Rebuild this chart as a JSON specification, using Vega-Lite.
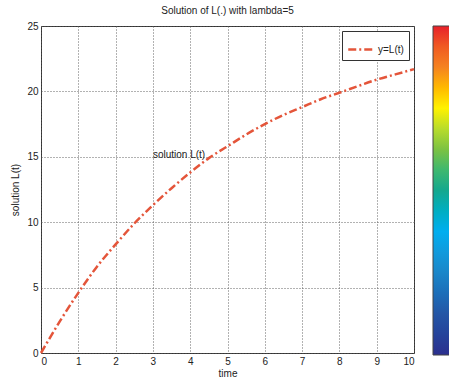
{
  "$schema": "https://vega.github.io/schema/vega-lite/v6.json",
  "width": 373,
  "height": 327,
  "autosize": "none",
  "padding": {"left": 41, "top": 26, "right": 35, "bottom": 26},
  "background": "white",
  "title": {"text": "Solution of L(.) with lambda=5", "fontSize": 10, "fontWeight": "normal", "font": "Liberation Sans", "color": "#222", "offset": 5},
  "datasets": {
    "curve": [
      {"t": 0, "L": 0, "series": "y=L(t)"},
      {"t": 0.5, "L": 2.4, "series": "y=L(t)"},
      {"t": 1, "L": 4.6, "series": "y=L(t)"},
      {"t": 1.5, "L": 6.6, "series": "y=L(t)"},
      {"t": 2, "L": 8.3, "series": "y=L(t)"},
      {"t": 2.5, "L": 9.9, "series": "y=L(t)"},
      {"t": 3, "L": 11.3, "series": "y=L(t)"},
      {"t": 3.5, "L": 12.6, "series": "y=L(t)"},
      {"t": 4, "L": 13.8, "series": "y=L(t)"},
      {"t": 4.5, "L": 14.9, "series": "y=L(t)"},
      {"t": 5, "L": 15.8, "series": "y=L(t)"},
      {"t": 5.5, "L": 16.7, "series": "y=L(t)"},
      {"t": 6, "L": 17.5, "series": "y=L(t)"},
      {"t": 6.5, "L": 18.2, "series": "y=L(t)"},
      {"t": 7, "L": 18.8, "series": "y=L(t)"},
      {"t": 7.5, "L": 19.4, "series": "y=L(t)"},
      {"t": 8, "L": 19.9, "series": "y=L(t)"},
      {"t": 8.5, "L": 20.4, "series": "y=L(t)"},
      {"t": 9, "L": 20.9, "series": "y=L(t)"},
      {"t": 9.5, "L": 21.3, "series": "y=L(t)"},
      {"t": 10, "L": 21.7, "series": "y=L(t)"}
    ],
    "label": [{"t": 3.0, "L": 15.1, "text": "solution L(t)"}],
    "bar": [{"t": 0, "L": 0, "v": 0}, {"t": 0, "L": 0, "v": 8}]
  },
  "encoding": {
    "x": {"field": "t", "type": "quantitative", "scale": {"domain": [0, 10], "nice": false},
      "axis": {"title": "time", "values": [0,1,2,3,4,5,6,7,8,9,10], "titlePadding": 2}},
    "y": {"field": "L", "type": "quantitative", "scale": {"domain": [0, 25], "nice": false},
      "axis": {"title": "solution L(t)", "values": [0,5,10,15,20,25], "titlePadding": 6}}
  },
  "layer": [
    {
      "data": {"name": "bar"},
      "mark": {"type": "point", "opacity": 0, "filled": true},
      "encoding": {
        "fill": {"field": "v", "type": "quantitative",
          "scale": {"domain": [0,1,2,3,4,5,6,7,8], "range": ["#2b2f8e", "#2456a6", "#1a86c9", "#00aeef", "#14a88e", "#7cc242", "#fff200", "#f58220", "#e8202a", "#e8202a", "#8b1a1a"]},
          "legend": {"orient": "right", "offset": 14, "title": null, "gradientLength": 329, "gradientThickness": 19, "labelExpr": "''", "gradientStrokeColor": "#444", "gradientStrokeWidth": 1, "tickCount": 8}}
      }
    },
    {
      "data": {"name": "curve"},
      "mark": {"type": "line", "strokeWidth": 2.5, "strokeDash": [8, 3, 2, 3], "interpolate": "monotone"},
      "encoding": {
        "stroke": {"field": "series", "type": "nominal", "scale": {"range": ["#e4553a"]},
          "legend": {"orient": "top-right", "offset": 5, "title": null, "symbolType": "stroke", "symbolDash": [8, 3, 2, 3], "symbolStrokeWidth": 2.5, "symbolSize": 600, "strokeColor": "#333", "fillColor": "white", "padding": 5, "labelFontSize": 10, "labelFont": "Liberation Sans", "labelColor": "#222"}}
      }
    },
    {
      "data": {"name": "label"},
      "mark": {"type": "text", "align": "left", "baseline": "middle", "fontSize": 10, "font": "Liberation Sans", "color": "#222"},
      "encoding": {"text": {"field": "text"}}
    }
  ],
  "config": {
    "view": {"stroke": "#333", "strokeWidth": 1},
    "axis": {"grid": true, "gridDash": [1, 2], "gridColor": "#555", "gridOpacity": 0.9, "ticks": false, "domain": false,
      "labelFont": "Liberation Sans", "labelFontSize": 10, "labelColor": "#222", "titleFont": "Liberation Sans", "titleFontSize": 10, "titleFontWeight": "normal", "titleColor": "#222", "labelPadding": 3}
  }
}
